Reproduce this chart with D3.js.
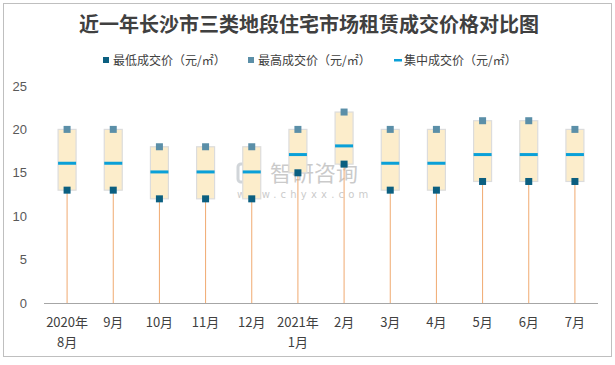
<!DOCTYPE html>
<html><head><meta charset="utf-8">
<script src="https://cdn.jsdelivr.net/npm/d3@7"></script>
<style>body{margin:0;background:#fff}svg{display:block}</style>
</head><body>
<script>
const categories = ["2020年|8月","9月","10月","11月","12月","2021年|1月","2月","3月","4月","5月","6月","7月"];
const minValues = [13,13,12,12,12,15,16,13,13,14,14,14];
const maxValues = [20,20,18,18,18,20,22,20,20,21,21,20];
const midValues = [16.1,16.1,15.1,15.1,15.1,17.1,18.1,16.1,16.1,17.1,17.1,17.1];
const yTicks = [0,5,10,15,20,25];
const seriesNames = ["最低成交价（元/㎡）","最高成交价（元/㎡）","集中成交价（元/㎡）"];
const title = "近一年长沙市三类地段住宅市场租赁成交价格对比图";

const W=615,H=365;
const svg=d3.select("body").append("svg").attr("width",W).attr("height",H);
svg.append("rect").attr("x",3.5).attr("y",3.5).attr("width",608).attr("height",353)
  .attr("fill","#fff").attr("stroke","#bfbfbf");
const font="'Noto Sans CJK SC','Microsoft YaHei',sans-serif";
svg.append("text").attr("x",309).attr("y",32).attr("text-anchor","middle")
  .attr("font-family",font).attr("font-weight","bold").attr("font-size",20).attr("fill","#404040").text(title);

// legend
const leg=[{x:103,t:"sq",c:"#0b5f80"},{x:248,t:"sq",c:"#5b8fa8"},{x:394,t:"ln",c:"#0aa0d8"}];
leg.forEach((l,i)=>{
  if(l.t==="sq") svg.append("rect").attr("x",l.x).attr("y",57).attr("width",6).attr("height",6).attr("fill",l.c);
  else svg.append("rect").attr("x",l.x).attr("y",59).attr("width",8).attr("height",2.5).attr("fill",l.c);
  svg.append("text").attr("x",l.x+10).attr("y",64.5).attr("font-family",font).attr("font-size",12)
    .attr("fill","#404040").text(seriesNames[i]);
});

const x=d3.scaleBand().domain(categories).range([44,598]);
const y=d3.scaleLinear().domain([0,25]).range([303,86]);

// y labels
svg.selectAll(".yt").data(yTicks).enter().append("text")
  .attr("x",27).attr("y",d=>y(d)+4.5).attr("text-anchor","end")
  .attr("font-family","'Liberation Sans',Arial,sans-serif").attr("font-size",13).attr("fill","#595959").text(d=>d);

// watermark
const wm=svg.append("g").attr("opacity",0.45);
wm.append("rect").attr("x",238).attr("y",164).attr("width",15).attr("height",18).attr("rx",3).attr("fill","none").attr("stroke","#9aa4ad").attr("stroke-width",3);
wm.append("text").attr("x",270).attr("y",181).attr("font-family",font).attr("font-size",22).attr("fill","#8c8c8c").text("智研咨询");
wm.append("text").attr("x",237).attr("y",198).attr("font-family","'DejaVu Sans',sans-serif").attr("font-size",10).attr("letter-spacing",4.2).attr("fill","#8c8c8c").text("www.chyxx.com");

const cx=i=>x(categories[i])+x.bandwidth()/2;
const bw=18;
const idx=d3.range(categories.length);
const g=svg.append("g");
// orange lines
g.selectAll(".ol").data(idx).enter().append("line")
  .attr("x1",i=>cx(i)).attr("x2",i=>cx(i)).attr("y1",i=>y(minValues[i])).attr("y2",y(0))
  .attr("stroke","#f0aa70").attr("stroke-width",1);
// boxes
g.selectAll(".bx").data(idx).enter().append("rect")
  .attr("x",i=>cx(i)-bw/2).attr("width",bw)
  .attr("y",i=>y(maxValues[i])).attr("height",i=>y(minValues[i])-y(maxValues[i]))
  .attr("fill","#fcedcb").attr("stroke","#dcdcdc").attr("stroke-width",1.2);
// mid
g.selectAll(".md").data(idx).enter().append("rect")
  .attr("x",i=>cx(i)-bw/2).attr("width",bw).attr("y",i=>y(midValues[i])-1.5).attr("height",3)
  .attr("fill","#0aa0d8");
// max markers
g.selectAll(".mx").data(idx).enter().append("rect")
  .attr("x",i=>cx(i)-3.5).attr("y",i=>y(maxValues[i])-3.5).attr("width",7).attr("height",7).attr("fill","#5b8fa8");
// min markers
g.selectAll(".mn").data(idx).enter().append("rect")
  .attr("x",i=>cx(i)-3.5).attr("y",i=>y(minValues[i])-3.5).attr("width",7).attr("height",7).attr("fill","#0b5f80");

// x axis
svg.append("line").attr("x1",44).attr("x2",598).attr("y1",303.5).attr("y2",303.5).attr("stroke","#a6a6a6");
categories.forEach((c,i)=>{
  const parts=c.split("|");
  parts.forEach((p,j)=>{
    svg.append("text").attr("x",cx(i)).attr("y",327+j*20).attr("text-anchor","middle")
      .attr("font-family",font).attr("font-size",13).attr("fill","#404040").text(p);
  });
});
</script>
</body></html>
